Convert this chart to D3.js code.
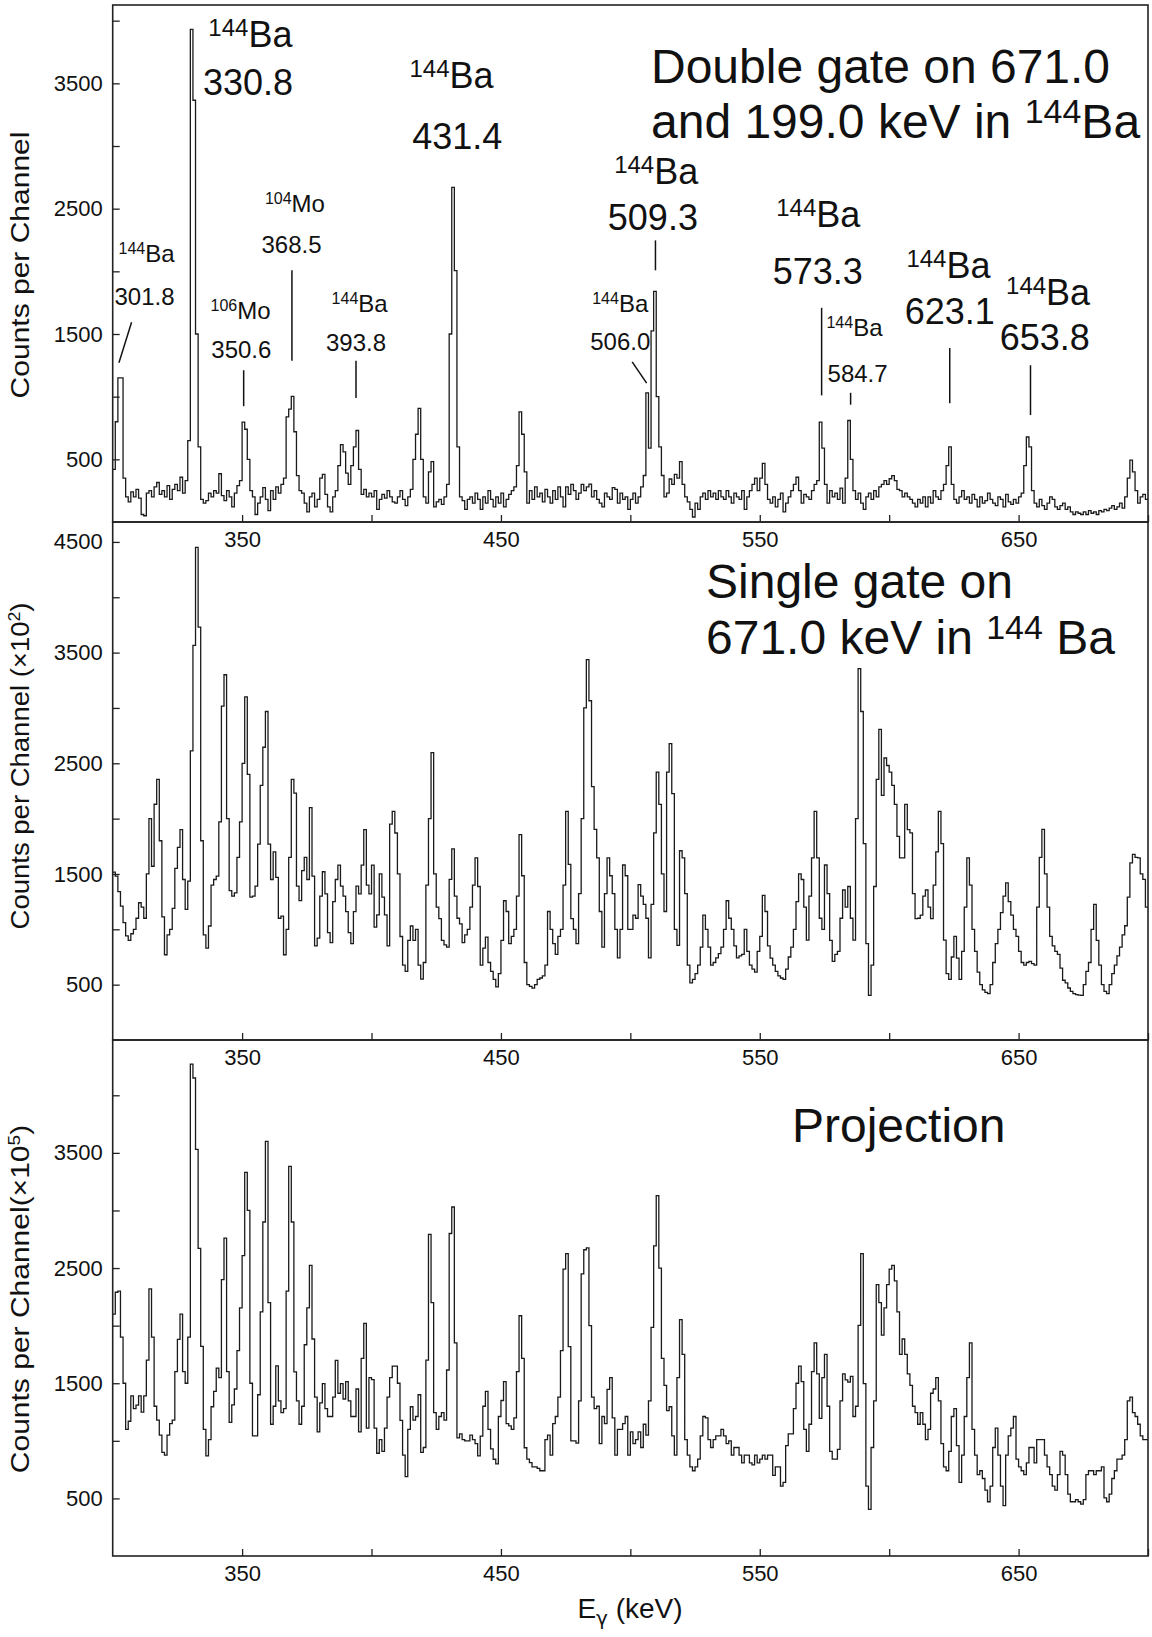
<!DOCTYPE html>
<html>
<head>
<meta charset="utf-8">
<script src="https://cdn.jsdelivr.net/npm/d3@7"></script>
<style>
  body { margin: 0; background: #fff; }
  text { font-family: "Liberation Sans", Arial, Helvetica, sans-serif; fill: #111; }
</style>
</head>
<body>
<svg id="chart" width="1152" height="1637"></svg>
<script>
// channels are 1 keV wide, first channel starts at 300 keV
const channelStart = 300;

// double gate on 671.0 and 199.0 keV (counts per channel)
const doubleGate = [
  420, 800, 1150, 1150, 350, 200, 160, 240, 200, 260,
  190, 60, 50, 230, 250, 200, 280, 315, 220, 250,
  200, 290, 180, 260, 300, 250, 357, 230, 330, 650,
  3930, 3365, 1500, 600, 180, 150, 170, 230, 200, 250,
  230, 385, 210, 170, 250, 200, 120, 230, 290, 330,
  797, 740, 500, 250, 200, 60, 150, 200, 275, 180,
  90, 250, 180, 280, 230, 300, 350, 838, 900, 1003,
  720, 370, 250, 230, 150, 80, 200, 230, 120, 180,
  350, 380, 220, 120, 80, 200, 250, 450, 618, 560,
  390, 300, 450, 600, 730, 420, 220, 260, 200, 230,
  200, 250, 100, 180, 220, 190, 250, 200, 160, 150,
  200, 250, 180, 130, 200, 260, 500, 700, 906, 500,
  200, 150, 400, 481, 120, 160, 180, 140, 200, 300,
  1500, 2670, 2005, 600, 200, 170, 100, 180, 200, 150,
  230, 180, 100, 200, 150, 250, 180, 120, 200, 150,
  230, 120, 180, 220, 250, 280, 450, 879, 700, 400,
  150, 250, 180, 280, 200, 230, 160, 260, 200, 150,
  250, 180, 280, 200, 120, 280, 220, 300, 250, 180,
  230, 300, 250, 280, 302, 200, 250, 180, 150, 120,
  230, 200, 180, 275, 260, 150, 230, 180, 200, 100,
  180, 230, 150, 200, 280, 371, 1030, 590, 1525, 1840,
  1000, 600, 371, 200, 230, 343, 300, 380, 350, 481,
  300, 200, 160, 100, 40, 150, 100, 200, 230, 180,
  250, 200, 230, 180, 250, 200, 180, 250, 200, 150,
  230, 200, 180, 250, 100, 200, 250, 300, 350, 250,
  350, 467, 300, 180, 150, 200, 120, 180, 230, 80,
  150, 200, 250, 300, 357, 250, 150, 220, 200, 180,
  250, 300, 330, 797, 590, 300, 150, 250, 200, 230,
  180, 270, 150, 350, 810, 500, 250, 180, 230, 150,
  100, 200, 230, 180, 250, 200, 280, 300, 330, 300,
  345, 370, 330, 260, 250, 200, 230, 200, 180, 150,
  120, 180, 150, 200, 120, 200, 150, 250, 200, 180,
  250, 300, 450, 600, 300, 180, 150, 200, 250, 180,
  200, 150, 220, 180, 120, 200, 150, 170, 230, 180,
  150, 130, 200, 180, 120, 220, 160, 140, 180, 150,
  200, 230, 450, 678, 600, 250, 150, 120, 180, 130,
  100, 150, 200, 180, 120, 100, 130, 150, 100, 120,
  80, 60, 80, 70, 60, 80, 60, 90, 70, 80,
  60, 90, 80, 100, 90, 110, 130, 100, 120, 150,
  110, 200, 350, 494, 400, 250, 150, 200, 220, 180
];

// single gate on 671.0 keV (x10^2 counts per channel)
const singleGate = [
  1516, 1480, 1340, 1210, 1060, 940, 900, 960, 1000, 1100,
  1240, 1200, 1100, 1500, 2000, 1570, 2130, 2355, 1800, 1113,
  770, 950, 1000, 1190, 1550, 1740, 1900, 1450, 1180, 1435,
  2613, 3565, 4450, 3730, 1800, 950, 830, 1030, 1400, 1450,
  1480, 1970, 3016, 3300, 2000, 1350, 1300, 1330, 1650, 1970,
  2500, 3100, 2400, 1290, 1300, 1390, 1770, 2300, 2645, 2968,
  1770, 1450, 1700, 1470, 1100, 1120, 770, 1000, 1650, 2355,
  2230, 1390, 1260, 1530, 1650, 1450, 2100, 1480, 850, 920,
  1300, 1520, 1320, 970, 880, 1250, 1450, 1580, 1390, 1300,
  1160, 970, 870, 1160, 1390, 1320, 1580, 1900, 1400, 1320,
  1580, 1020, 1130, 1500, 1290, 1130, 850, 1950, 2065, 1870,
  1500, 935, 677, 620, 900, 1030, 900, 1000, 677, 550,
  700, 1400, 2000, 2597, 1500, 1200, 1097, 900, 860, 839,
  1452, 1726, 1300, 1100, 1050, 880, 950, 1000, 1200, 1400,
  1645, 1387, 677, 830, 929, 700, 620, 548, 480, 600,
  900, 1258, 1161, 871, 936, 1000, 1300, 1855, 1484, 700,
  500, 484, 468, 500, 548, 560, 580, 677, 1161, 1000,
  871, 774, 936, 1000, 1400, 2065, 1587, 1097, 1000, 871,
  1323, 2000, 3000, 3436, 3065, 2290, 1903, 1645, 1161, 839,
  1323, 1645, 1484, 1323, 1000, 742, 1000, 1581, 1484, 1000,
  1000, 1129, 1100, 1403, 1300, 1226, 1100, 742, 1226, 1871,
  2420, 2129, 1500, 1161, 2420, 2678, 2226, 1000, 855, 1710,
  1645, 1323, 677, 516, 548, 600, 677, 839, 1129, 1000,
  840, 677, 700, 742, 780, 839, 1000, 1258, 1100, 1000,
  850, 742, 760, 774, 1000, 800, 677, 640, 613, 800,
  936, 1306, 1161, 850, 740, 677, 620, 580, 560, 548,
  640, 750, 839, 1000, 1250, 1500, 1450, 1200, 903, 1300,
  1645, 2065, 1645, 1100, 1000, 1581, 1323, 900, 710, 774,
  800, 1100, 1355, 1200, 1387, 1100, 903, 2000, 3355, 2968,
  1774, 871, 403, 677, 1387, 2355, 2807, 2210, 2548, 2480,
  2420, 2300, 2129, 1839, 1645, 1645, 2129, 1900, 1871, 1323,
  1097, 1100, 1129, 1300, 1355, 1200, 1097, 1400, 1700, 2065,
  1774, 903, 600, 548, 750, 936, 740, 548, 800, 1200,
  1645, 1400, 1000, 800, 613, 500, 452, 430, 419, 500,
  700, 871, 1000, 1150, 1300, 1419, 1250, 1129, 1000, 936,
  800, 700, 677, 700, 710, 690, 677, 1200, 1650, 1903,
  1500, 1200, 936, 850, 800, 774, 650, 540, 516, 470,
  440, 419, 410, 405, 403, 500, 620, 700, 1000, 1226,
  900, 677, 500, 440, 419, 500, 600, 677, 760, 839,
  950, 1032, 1290, 1600, 1677, 1650, 1645, 1500, 1452, 1200
];

// total projection (x10^5 counts per channel)
const projection = [
  2100, 2290, 2300, 1900, 1500, 1100, 1170, 1390, 1280, 1310,
  1390, 1250, 1390, 1700, 2320, 1900, 1300, 1180, 1050, 900,
  875, 1050, 1150, 1180, 1600, 1880, 2100, 1600, 1500, 1900,
  4270, 4150, 3530, 2670, 1820, 1100, 870, 1010, 1296, 1430,
  1632, 1548, 2400, 2759, 1600, 1161, 1312, 1450, 1783, 2154,
  2608, 3331, 3000, 1500, 1043, 1043, 1400, 2120, 2900, 3600,
  2200, 1144, 1300, 1650, 1346, 1245, 1279, 2300, 3382, 2900,
  1598, 1346, 1144, 1300, 1834, 2154, 2524, 1884, 1380, 1077,
  1329, 1497, 1279, 1211, 1211, 1380, 1699, 1413, 1497, 1363,
  1514, 1346, 1211, 1211, 1450, 1077, 1716, 2019, 1110, 1548,
  1531, 1110, 892, 1010, 909, 1110, 1380, 1548, 1649, 1649,
  1500, 1178, 875, 690, 1100, 1296, 1180, 1211, 1400, 900,
  942, 1700, 2793, 2200, 1245, 1100, 1211, 1245, 1180, 1615,
  2800, 3030, 1850, 1026, 1060, 1010, 1000, 1000, 1050, 1010,
  976, 870, 1040, 1300, 1430, 1100, 930, 840, 800, 1211,
  1350, 1514, 1150, 1130, 1100, 1200, 1600, 2086, 1716, 940,
  841, 810, 774, 774, 760, 740, 740, 1010, 1050, 875,
  1150, 1211, 1380, 1783, 2490, 2625, 1817, 1000, 1000, 980,
  1346, 2450, 2659, 2675, 2000, 1380, 1279, 1300, 976, 1211,
  1150, 1447, 1548, 1200, 875, 1100, 1100, 1150, 1211, 875,
  1077, 976, 1010, 1077, 942, 1144, 1050, 1346, 1985, 2692,
  3129, 2500, 1716, 1481, 1262, 1296, 1043, 875, 1548, 2053,
  1750, 1010, 875, 774, 740, 774, 841, 1043, 1211, 1200,
  1010, 942, 1010, 1043, 1043, 1100, 1043, 976, 1000, 875,
  942, 942, 875, 808, 875, 875, 808, 791, 875, 808,
  841, 875, 841, 875, 875, 700, 774, 774, 606, 640,
  959, 1060, 1060, 1279, 1500, 1649, 1514, 1100, 909, 1144,
  1600, 1850, 1582, 1195, 1548, 1750, 1300, 909, 841, 841,
  925, 1346, 1582, 1530, 1510, 1560, 1211, 1300, 2002, 2625,
  1497, 606, 404, 942, 1346, 2356, 2200, 1918, 2154, 2356,
  2490, 2524, 2389, 2120, 1750, 1884, 1750, 1582, 1481, 1300,
  1245, 1144, 1245, 1144, 1010, 1100, 1413, 1450, 1548, 1346,
  976, 774, 740, 909, 1211, 1279, 959, 640, 875, 1211,
  1548, 1850, 1100, 875, 707, 740, 673, 572, 471, 606,
  942, 1110, 875, 606, 437, 875, 1043, 1110, 1211, 841,
  774, 740, 707, 808, 942, 942, 808, 1010, 1010, 1010,
  875, 774, 707, 606, 572, 707, 909, 875, 707, 538,
  471, 471, 490, 471, 450, 490, 707, 740, 740, 707,
  740, 740, 774, 505, 471, 538, 673, 740, 841, 841,
  875, 1010, 1346, 1380, 1245, 1211, 1144, 1043, 1010, 1010
];

const xDomain = [300, 700];
const xTicks = [350, 400, 450, 500, 550, 600, 650, 700];
const xTickLabels = [350, 450, 550, 650];
const yTicksTop = [500, 1000, 1500, 2000, 2500, 3000, 3500, 4000];
const yTicksMiddle = [500, 1000, 1500, 2000, 2500, 3000, 3500, 4000, 4500];
const yTicksBottom = [500, 1000, 1500, 2000, 2500, 3000, 3500, 4000];
const yTickLabels = [500, 1500, 2500, 3500, 4500];

// peak labels in the top panel: [energy, counts, size, superscript, text]
const peakLabels = [
  [353.2, 3789, "L", "144", "Ba"], [352.3, 3405, "L", "", "330.8"],
  [430.9, 3460, "L", "144", "Ba"], [433.1, 2980, "L", "", "431.4"],
  [510.0, 2693, "L", "144", "Ba"], [508.7, 2327, "L", "", "509.3"],
  [572.6, 2351, "L", "144", "Ba"], [572.4, 1897, "L", "", "573.3"],
  [622.9, 1944, "L", "144", "Ba"], [623.4, 1580, "L", "", "623.1"],
  [661.4, 1731, "L", "144", "Ba"], [660.1, 1375, "L", "", "653.8"],
  [313.1, 2072, "S", "144", "Ba"], [312.3, 1729, "S", "", "301.8"],
  [349.4, 1622, "S", "106", "Mo"], [349.7, 1307, "S", "", "350.6"],
  [370.4, 2472, "S", "104", "Mo"], [369.1, 2144, "S", "", "368.5"],
  [395.4, 1677, "S", "144", "Ba"], [394.0, 1367, "S", "", "393.8"],
  [496.1, 1677, "S", "144", "Ba"], [496.1, 1375, "S", "", "506.0"],
  [586.6, 1485, "S", "144", "Ba"], [587.8, 1116, "S", "", "584.7"]
];
// leader lines: [energy1, counts1, energy2, counts2]
const leaders = [
  [307.3, 1594, 302.4, 1270],
  [350.6, 1211, 350.6, 924],
  [369.25, 2008, 369.25, 1287],
  [394.0, 1287, 394.0, 990],
  [509.7, 2247, 509.7, 2008],
  [500.7, 1278, 506.3, 1108],
  [573.9, 1709, 573.9, 1010],
  [585.1, 1031, 585.1, 936],
  [623.4, 1388, 623.4, 948],
  [654.6, 1251, 654.6, 853]
];

const panels = [
  { values: doubleGate, top: 5, bottom: 522, yMax: 4125, yTicks: yTicksTop,
    ylabel: ["Counts per Channel", "", ""], labelY: 265, stretch: 1.2 },
  { values: singleGate, top: 522, bottom: 1040, yMax: 4680, yTicks: yTicksMiddle,
    ylabel: ["Counts per Channel (\u00d710", "2", ")"], labelY: 766, stretch: 1.1 },
  { values: projection, top: 1040, bottom: 1556, yMax: 4480, yTicks: yTicksBottom,
    ylabel: ["Counts per Channel(\u00d710", "5", ")"], labelY: 1299, stretch: 1.2 }
];

const svg = d3.select("#chart");
const x = d3.scaleLinear().domain(xDomain).range([112.7, 1148]);

function isoText(g, px, py, sup, main, size, supSize, rise, anchor) {
  const t = g.append("text").attr("x", px).attr("y", py)
    .attr("text-anchor", anchor).attr("font-size", size);
  if (sup) {
    t.append("tspan").attr("font-size", supSize).attr("dy", -rise).text(sup);
    t.append("tspan").attr("dy", rise).text(main);
  } else if (main) {
    t.text(main);
  }
  return t;
}

panels.forEach((p, pi) => {
  const y = d3.scaleLinear().domain([0, p.yMax]).range([p.bottom, p.top]);
  p.y = y;
  const g = svg.append("g");

  g.append("clipPath").attr("id", "clip" + pi)
    .append("rect").attr("x", x.range()[0]).attr("y", p.top)
    .attr("width", x.range()[1] - x.range()[0]).attr("height", p.bottom - p.top);

  const pts = p.values.map((v, i) => [channelStart + i, v]);
  pts.push([channelStart + p.values.length, p.values[p.values.length - 1]]);
  const line = d3.line().x(d => x(d[0])).y(d => y(d[1])).curve(d3.curveStepAfter);
  g.append("path").datum(pts)
    .attr("clip-path", `url(#clip${pi})`)
    .attr("d", line).attr("fill", "none")
    .attr("stroke", "#1a1a1a").attr("stroke-width", 1.3);

  const xAxis = d3.axisBottom(x).tickValues(xTicks)
    .tickSizeInner(-7).tickSizeOuter(0).tickPadding(9)
    .tickFormat(d => xTickLabels.includes(d) ? d : "");
  const xa = g.append("g").attr("transform", `translate(0,${p.bottom})`).call(xAxis);

  const yAxis = d3.axisLeft(y).tickValues(p.yTicks)
    .tickSizeInner(-7).tickSizeOuter(0).tickPadding(10)
    .tickFormat(d => yTickLabels.includes(d) ? d : "");
  const ya = g.append("g").attr("transform", `translate(${x.range()[0]},0)`).call(yAxis);

  [xa, ya].forEach(a => {
    a.select(".domain").remove();
    a.selectAll(".tick line").attr("stroke", "#222").attr("stroke-width", 1.3);
    a.selectAll(".tick text").attr("font-size", 22)
      .attr("font-family", '"Liberation Sans", Arial, sans-serif').attr("fill", "#111");
  });

  g.append("rect").attr("x", x.range()[0]).attr("y", p.top)
    .attr("width", x.range()[1] - x.range()[0]).attr("height", p.bottom - p.top)
    .attr("fill", "none").attr("stroke", "#222").attr("stroke-width", 1.6);

  const lab = g.append("text")
    .attr("transform", `translate(29,${p.labelY}) rotate(-90) scale(${p.stretch},1)`)
    .attr("text-anchor", "middle").attr("font-size", 25);
  lab.append("tspan").text(p.ylabel[0]);
  if (p.ylabel[1]) {
    lab.append("tspan").attr("font-size", 16).attr("dy", -9).text(p.ylabel[1]);
    lab.append("tspan").attr("dy", 9).text(p.ylabel[2]);
  }
});

// top panel annotations
const topPanel = panels[0];
const ann = svg.append("g");
peakLabels.forEach(d => {
  const big = d[2] === "L";
  isoText(ann, x(d[0]), topPanel.y(d[1]), d[3], d[4],
    big ? 36 : 24, big ? 24 : 16, big ? 11 : 8, "middle");
});
ann.selectAll("line.leader").data(leaders).enter().append("line")
  .attr("class", "leader")
  .attr("x1", d => x(d[0])).attr("y1", d => topPanel.y(d[1]))
  .attr("x2", d => x(d[2])).attr("y2", d => topPanel.y(d[3]))
  .attr("stroke", "#111").attr("stroke-width", 1.5);

// panel titles
const titles = svg.append("g");
function titleLine(px, py, before, sup, after) {
  const t = titles.append("text").attr("x", px).attr("y", py).attr("font-size", 48);
  t.append("tspan").text(before);
  if (sup) {
    t.append("tspan").attr("font-size", 34).attr("dy", -15).text(sup);
    t.append("tspan").attr("dy", 15).text(after);
  }
}
titleLine(651, 83, "Double gate on 671.0");
titleLine(651, 138, "and 199.0 keV in ", "144", "Ba");
titleLine(706, 598, "Single gate on");
titleLine(706, 654, "671.0 keV in ", "144", " Ba");
titleLine(792, 1142, "Projection");

// x axis title
const xt = svg.append("text").attr("x", 630).attr("y", 1618)
  .attr("text-anchor", "middle").attr("font-size", 28);
xt.append("tspan").text("E");
xt.append("tspan").attr("font-size", 20).attr("dy", 7)
  .attr("font-family", '"DejaVu Sans", sans-serif').text("\u03b3");
xt.append("tspan").attr("dy", -7).text(" (keV)");
</script>
</body>
</html>
